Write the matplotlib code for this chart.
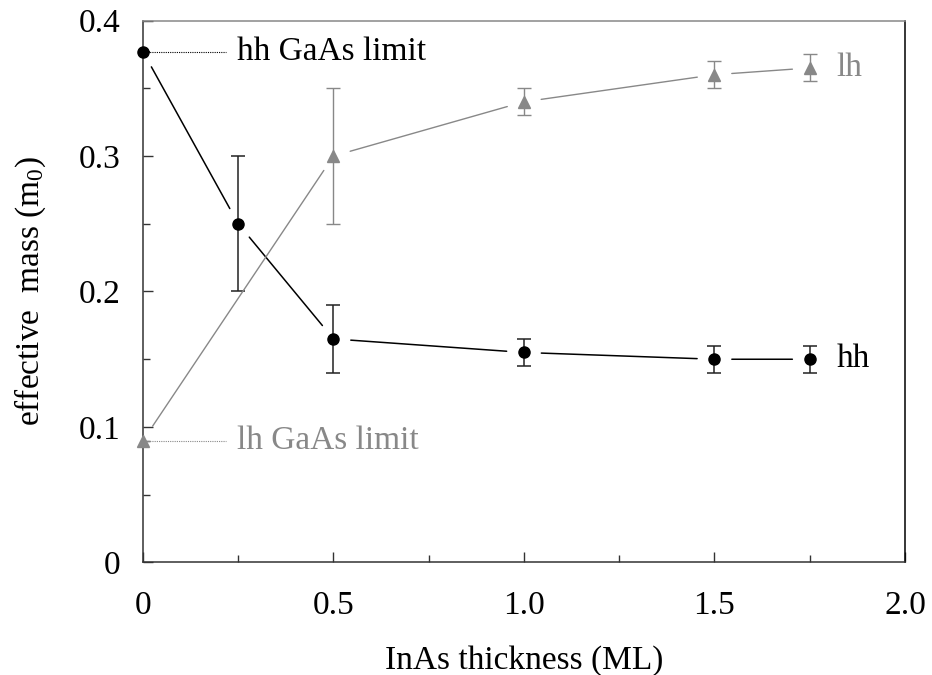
import numpy as np
import matplotlib
matplotlib.use('Agg')
import matplotlib.pyplot as plt
from matplotlib.ticker import MultipleLocator, FixedFormatter, FixedLocator

plt.rcParams['font.family'] = ['Liberation Serif', 'DejaVu Serif']
plt.rcParams['mathtext.fontset'] = 'custom'
plt.rcParams['mathtext.rm'] = 'Liberation Serif'

# heavy hole (hh) and light hole (lh) effective masses
hh_x = [0, 0.25, 0.5, 1.0, 1.5, 1.75]
hh_y = [0.377, 0.25, 0.165, 0.155, 0.15, 0.15]
hh_err = [0, 0.05, 0.025, 0.01, 0.01, 0.01]

lh_x = [0, 0.5, 1.0, 1.5, 1.75]
lh_y = [0.09, 0.3, 0.34, 0.36, 0.365]
lh_err = [0, 0.05, 0.01, 0.01, 0.01]

xticks = [0, 0.5, 1.0, 1.5, 2.0]
xticklabels = ['0', '0.5', '1.0', '1.5', '2.0']
yticks = [0, 0.1, 0.2, 0.3, 0.4]
yticklabels = ['0', '0.1', '0.2', '0.3', '0.4']

GRAY = '#888888'
DARK = '#222222'

fig = plt.figure(figsize=(9.32, 6.75), dpi=100)
ax = fig.add_axes([0.1534, 0.1667, 0.8176, 0.8029])

# markers + error bars
hh_eb = ax.errorbar(hh_x, hh_y, yerr=hh_err, fmt='o', color='black', ecolor=DARK,
                    markersize=8, capsize=5, elinewidth=1.1, capthick=1.1, zorder=3)
lh_eb = ax.errorbar(lh_x, lh_y, yerr=lh_err, fmt='^', color=GRAY, ecolor=GRAY,
                    markersize=8.5, capsize=5, elinewidth=1.0, capthick=1.0, zorder=3)
hh_eb[0].set_clip_on(False)
lh_eb[0].set_clip_on(False)


def gapline(xs, ys, color, lw):
    # connecting segments that stop short of the markers
    for i in range(len(xs) - 1):
        ax.annotate('', xy=(xs[i + 1], ys[i + 1]), xytext=(xs[i], ys[i]),
                    arrowprops=dict(arrowstyle='-', color=color, lw=lw,
                                    shrinkA=12.5, shrinkB=12.5))


gapline(hh_x, hh_y, 'black', 1.1)
gapline(lh_x, lh_y, GRAY, 1.0)

# GaAs limit labels
ax.plot([hh_x[0], 0.218], [hh_y[0], hh_y[0]], color='black', lw=0.8,
        dashes=(1, 1), clip_on=False)
ax.text(0.247, hh_y[0], 'hh GaAs limit', fontsize=24, va='center', ha='left')
ax.plot([lh_x[0], 0.218], [lh_y[0], lh_y[0]], color=GRAY, lw=0.8,
        dashes=(1, 1), clip_on=False)
ax.text(0.247, lh_y[0], 'lh GaAs limit', fontsize=24, va='center', ha='left',
        color=GRAY)

ax.text(1.82, hh_y[-1], 'hh', fontsize=24, va='center', ha='left')
ax.text(1.82, lh_y[-1], 'lh', fontsize=24, va='center', ha='left', color=GRAY)

ax.set_xlim(0, 2.0)
ax.set_ylim(0, 0.4)
ax.xaxis.set_major_locator(FixedLocator(xticks))
ax.xaxis.set_major_formatter(FixedFormatter(xticklabels))
ax.yaxis.set_major_locator(FixedLocator(yticks))
ax.yaxis.set_major_formatter(FixedFormatter(yticklabels))
ax.xaxis.set_minor_locator(MultipleLocator(0.25))
ax.yaxis.set_minor_locator(MultipleLocator(0.05))
ax.tick_params(which='both', direction='in', top=False, right=False,
               labelsize=24, color='#333333', width=1.0)
ax.tick_params(axis='x', which='major', length=7, pad=20)
ax.tick_params(axis='y', which='major', length=7, pad=16)
ax.tick_params(which='minor', length=5)

ax.spines['left'].set_color('#333333')
ax.spines['bottom'].set_color('#333333')
ax.spines['top'].set_color(GRAY)
ax.spines['right'].set_color('black')
for s in ax.spines.values():
    s.set_linewidth(1.1)

ax.set_xlabel('InAs thickness (ML)', fontsize=24)
ax.set_ylabel('effective  mass ($\\mathregular{m_0}$)', fontsize=24)
ax.xaxis.set_label_coords(0.5, -0.152)
ax.yaxis.set_label_coords(-0.125, 0.5)

fig.savefig('out.png', dpi=100)
